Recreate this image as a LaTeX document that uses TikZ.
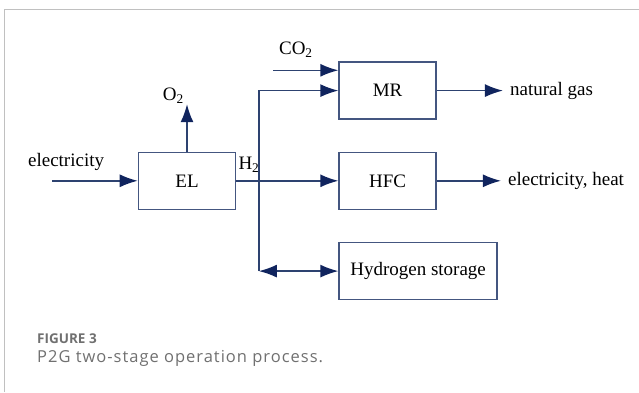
\documentclass[tikz,border=0pt]{standalone}
\usepackage{fontspec}
\setmainfont{Liberation Serif}
\newfontfamily\capfont[LetterSpace=6]{Open Sans}
\newfontfamily\fignumfont{Open Sans}
\usetikzlibrary{positioning, arrows.meta, calc}
\definecolor{flowblue}{RGB}{45,66,112}
\definecolor{tipnavy}{RGB}{16,36,94}
\definecolor{boxblue}{RGB}{68,86,128}
\definecolor{capgray}{RGB}{112,112,112}
\definecolor{framegray}{RGB}{192,192,192}

\begin{document}
\begin{tikzpicture}[x=1pt, y=1pt, node distance=32pt and 102pt,
    every node/.style={font=\fontsize{19}{22}\selectfont},
    block/.style={rectangle, draw=boxblue, line width=1.6pt, minimum width=97pt, minimum height=57pt, align=center, inner sep=2pt},
    lbl/.style={inner sep=0pt},
    arrow/.style={-{Latex[length=18pt, width=13pt, color=tipnavy]}, draw=flowblue, line width=1.4pt},
    biarrow/.style={{Latex[length=18pt, width=13pt, color=tipnavy]}-{Latex[length=18pt, width=13pt, color=tipnavy]}, draw=flowblue, line width=1.4pt}]

  \useasboundingbox (0,0) rectangle (639,392);
  \draw[framegray, line width=1.4pt] (4.7,0) |- (639,382.7);

  \node[block] (el) at (187,211.2) {EL};
  \node[block, right=102pt of el] (hfc) {HFC};
  \node[block, above=31.6pt of hfc] (mr) {MR};
  \node[block, minimum width=158pt, below=31.7pt of hfc.south west, anchor=north west] (store) {Hydrogen storage};

  % ends of the open arrows
  \coordinate[left=85.3pt of el.west] (elin);
  \coordinate[right=22.6pt of el.east] (split);
  \coordinate[above=47.3pt of el.north] (o2tip);
  \coordinate[left=65pt of mr.north west, yshift=-9pt] (co2in);
  \coordinate[right=66pt of mr.east] (gasout);
  \coordinate[right=64pt of hfc.east] (powout);

  \draw[arrow] (elin) -- (el.west);
  \draw[arrow] (el.north) -- (o2tip);
  \draw[arrow] (el.east) -- (hfc.west);
  \draw[arrow] (split |- store.west) -- (split |- mr.west) -- (mr.west);
  \draw[biarrow] (split |- store.west) -- (store.west);
  \draw[arrow] (co2in) -- (co2in -| mr.west);
  \draw[arrow] (mr.east) -- (gasout);
  \draw[arrow] (hfc.east) -- (powout);

  \node[lbl, above=14.4pt of elin, xshift=-24.5pt, anchor=base west] (elec) {electricity};
  \node[lbl, above=11.5pt of el.east, xshift=2pt, anchor=base west] (h2) {H\textsubscript{2}};
  \node[lbl, above=3.3pt of o2tip, xshift=-3pt, anchor=base east] (o2) {O\textsubscript{2}};
  \node[lbl, above=15.6pt of co2in, xshift=5.6pt, anchor=base west] (co2) {CO\textsubscript{2}};
  \node[lbl, right=7pt of gasout] (gas) {natural gas};
  \node[lbl, right=7pt of powout] (pow) {electricity, heat};

  % caption
  \node[lbl, anchor=base west, text=capgray, font=\fignumfont\bfseries\fontsize{13.5}{16}\selectfont] (fignum) at (37,48.5) {FIGURE 3};
  \node[lbl, anchor=base west, text=capgray, font=\capfont\fontsize{16.5}{19}\selectfont] (figcap) at (37,30) {P2G two-stage operation process.};
\end{tikzpicture}
\end{document}
